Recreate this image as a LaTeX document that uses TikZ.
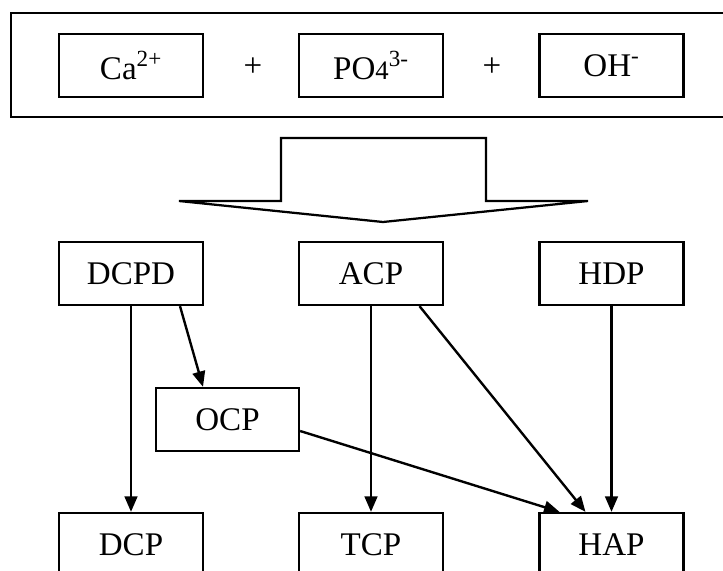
\documentclass[tikz,border=0pt]{standalone}
\usepackage{fontspec}
\setmainfont{Liberation Serif}
\usepackage{tikz}
\usetikzlibrary{positioning, arrows.meta, calc}

\tikzset{
  phase/.style={draw, line width=1.6pt, minimum width=3.6cm, minimum height=1.575cm,
    inner sep=0pt, font=\fontsize{23.5}{27}\selectfont},
  ion/.style={phase},
  conv/.style={line width=1.7pt, -{Triangle[length=11pt, width=9pt]}}
}

\begin{document}
\begin{tikzpicture}[x=0.025cm, y=-0.025cm]

  \useasboundingbox (0,0) rectangle (723,571);

  % Frame of the ions
  \draw[line width=1.6pt] (11,13) rectangle (730,117);

  % Ions
  \node[ion] (ca) at (131,65.5) {Ca\textsuperscript{2+}};
  \node[ion] (po) at (371,65.5) {PO{\fontsize{19}{19}\selectfont 4}\textsuperscript{3-}};
  \node[ion] (oh) at (611.5,65.5) {OH\textsuperscript{-}};

  \node[font=\fontsize{23.5}{27}\selectfont] (plusa) at (253,67) {+};
  \node[font=\fontsize{23.5}{27}\selectfont] (plusb) at (492,67) {+};

  % Big arrow
  \draw[line width=1.6pt, line join=miter] (281,138) -- (486,138) -- (486,201) -- (588,201)
    -- (383,222) -- (179,201) -- (281,201) -- cycle;

  % Phases
  \node[phase] (dcpd) at (131,273.5) {DCPD};
  \node[phase] (acp) at (371,273.5) {ACP};
  \node[phase] (hdp) at (611.5,273.5) {HDP};

  \node[phase, minimum width=3.575cm] (ocp) at (227.5,419.5) {OCP};

  \node[phase] (dcp) at (131,544.5) {DCP};
  \node[phase] (tcp) at (371,544.5) {TCP};
  \node[phase] (hap) at (611.5,544.5) {HAP};

  % Conversions
  \draw[conv] (dcpd.south) -- (dcp.north);
  \draw[conv] ($(dcpd.south)+(49,0)$) -- ($(ocp.north)+(-24.5,0)$);
  \draw[conv] (acp.south) -- (tcp.north);
  \draw[conv] ($(acp.south)+(48.5,0)$) -- ($(hap.north)+(-26,0)$);
  \draw[conv] ($(ocp.east)+(0,11.5)$) -- ($(hap.north)+(-52,0)$);
  \draw[conv] (hdp.south) -- (hap.north);

\end{tikzpicture}
\end{document}
